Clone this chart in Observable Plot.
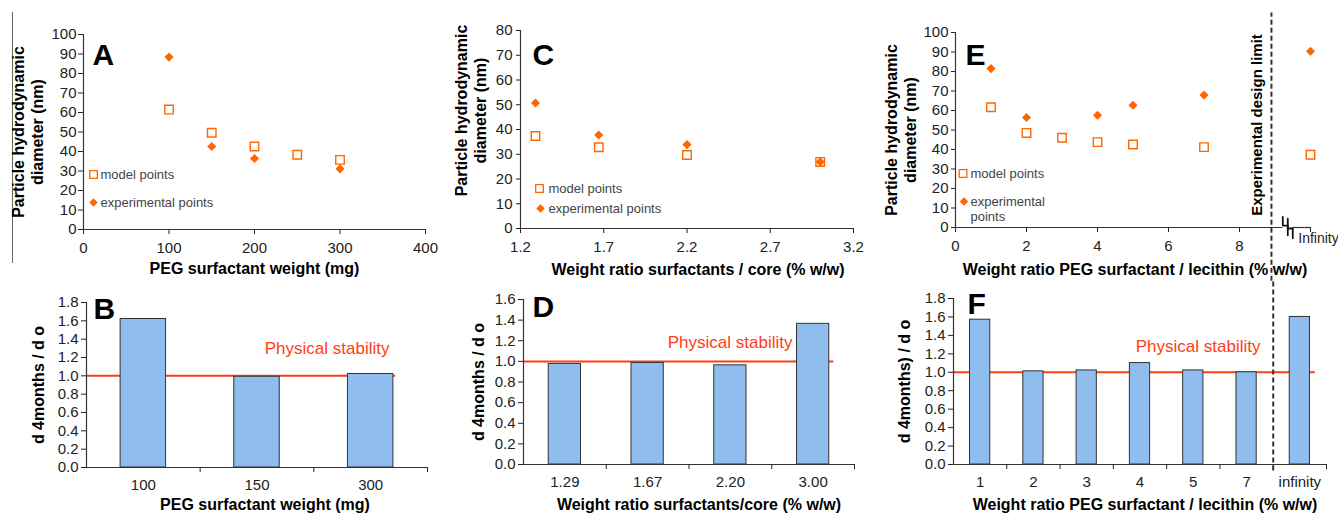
<!DOCTYPE html>
<html><head><meta charset="utf-8">
<script src="https://cdn.jsdelivr.net/npm/d3@7"></script>
<script src="https://cdn.jsdelivr.net/npm/@observablehq/plot@0.6"></script>
<style>
body{margin:0;background:#fff;}
#fig{position:relative;width:1338px;height:515px;overflow:hidden;font-family:"Liberation Sans",Arial,sans-serif;background:#fff;}
#fig svg{position:absolute;}
.edge{position:absolute;left:12px;top:12px;height:251px;border-left:1.5px solid #666;}
</style></head><body><div id="fig"><div class="edge"></div></div>
<script>
// ---------- data ----------
// Panel A
const pegWeightModel = [100, 150, 200, 250, 300];
const diameterModelA = [61.5, 49.6, 42.6, 38.3, 35.7];
const pegWeightExp = [100, 150, 200, 300];
const diameterExpA = [88.4, 42.6, 36.4, 31.1];
const xTicksA = [0, 100, 200, 300, 400];
const yTicksA = [0, 10, 20, 30, 40, 50, 60, 70, 80, 90, 100];
// Panel C
const ratioCoreModel = [1.29, 1.67, 2.2, 3.0];
const diameterModelC = [37.4, 32.8, 29.7, 26.9];
const ratioCoreExp = [1.29, 1.67, 2.2, 3.0];
const diameterExpC = [50.7, 37.8, 33.9, 26.9];
const xTicksC = [1.2, 1.7, 2.2, 2.7, 3.2];
const yTicksC = [0, 10, 20, 30, 40, 50, 60, 70, 80];
// Panel E
const ratioLecithinModel = [1, 2, 3, 4, 5, 7, Infinity];
const diameterModelE = [61.7, 48.5, 46.0, 43.8, 42.6, 41.2, 37.3];
const ratioLecithinExp = [1, 2, 4, 5, 7, Infinity];
const diameterExpE = [81.5, 56.4, 57.6, 62.7, 67.9, 90.4];
const xTicksE = [0, 2, 4, 6, 8];
const yTicksE = [0, 10, 20, 30, 40, 50, 60, 70, 80, 90, 100];
const infinityPosE = 10;
const designLimitE = 8.9;
// Panel B
const stabilityCatsB = ["100", "150", "300"];
const stabilityB = [1.62, 0.99, 1.02];
// Panel D
const stabilityCatsD = ["1.29", "1.67", "2.20", "3.00"];
const stabilityD = [0.975, 0.985, 0.962, 1.364];
// Panel F
const stabilityCatsF = ["1", "2", "3", "4", "5", "7", "infinity"];
const stabilityF = [1.57, 1.01, 1.02, 1.10, 1.02, 1.00, 1.60];
const stabilityThreshold = 1.0;
const legendLabels = ["model points", "experimental points"];

// ---------- styling ----------
const C = {orange: "#ff6600", red: "#ff3d14", bar: "#8ebdee", axis: "#333", text: "#222"};
const FONT = '"Liberation Sans", Arial, sans-serif';
const fig = document.getElementById("fig");
function place(el, left, top) { el.style.left = left + "px"; el.style.top = top + "px"; fig.appendChild(el); }
const baseStyle = {fontFamily: FONT, fontSize: "15px", color: C.text, background: "none", overflow: "visible"};

function scatterPanel(o) {
  const toX = v => v === Infinity ? o.infPos : v;
  const model = o.mx.map((x, i) => ({x: toX(x), y: o.my[i]}));
  const exp = o.ex.map((x, i) => ({x: toX(x), y: o.ey[i]}));
  const marks = [
    Plot.axisY({ticks: o.yTicks, tickSize: o.ytS, tickPadding: o.ytP, label: null}),
    Plot.axisX({ticks: o.xTicks, tickSize: 5, tickPadding: o.xtP, label: null, tickFormat: o.xFmt}),
    Plot.ruleY(o.xSegs, {y: () => 0, x1: d => d[0], x2: d => d[1], stroke: C.axis, strokeWidth: 1.2}),
    Plot.ruleX([o.xDomain[0]], {stroke: C.axis, strokeWidth: 1.2}),
    Plot.dot(model, {x: "x", y: "y", symbol: "square", r: 4.8, stroke: C.orange, strokeWidth: 1.4, fill: "white"}),
    Plot.dot(exp, {x: "x", y: "y", symbol: "diamond2", r: 4.1, fill: C.orange}),
    // legend
    Plot.dot([0], {frameAnchor: "top-left", dx: o.lg.sx, dy: o.lg.sy, symbol: "square", r: 4.3, stroke: C.orange, strokeWidth: 1.3, fill: "white"}),
    Plot.dot([0], {frameAnchor: "top-left", dx: o.lg.dx, dy: o.lg.dy, symbol: "diamond2", r: 3.8, fill: C.orange}),
    Plot.text([legendLabels[0]], {text: d => d, frameAnchor: "top-left", dx: o.lg.tx, dy: o.lg.sy, textAnchor: "start", lineAnchor: "middle", fontSize: 13, fill: "#444"}),
    Plot.text([o.expLabel], {text: d => d, frameAnchor: "top-left", dx: o.lg.tx, dy: o.lg.dy - 7, textAnchor: "start", lineAnchor: "top", fontSize: 13, fill: "#444", lineHeight: 1.2}),
    // panel letter
    Plot.text([o.letter], {text: d => d, frameAnchor: "top-left", dx: o.L.dx, dy: o.L.dy, textAnchor: "start", lineAnchor: "top", fontSize: 30, fontWeight: "bold", fill: "black"}),
    // axis titles
    Plot.text([o.xTitle], {text: d => d, frameAnchor: "bottom", dx: o.xT.dx, dy: o.xT.dy, lineAnchor: "middle", fontSize: 16, fontWeight: "bold", fill: "black"}),
    Plot.text([o.yTitle], {text: d => d, frameAnchor: "left", dx: o.yT.dx, dy: o.yT.dy, rotate: -90, textAnchor: "middle", lineAnchor: "middle", lineHeight: 1.18, fontSize: 16, fontWeight: "bold", fill: "black"})
  ];
  if (o.extra) marks.push(...o.extra);
  return Plot.plot({
    width: o.w, height: o.h, marginLeft: o.m[0], marginRight: o.m[1], marginTop: o.m[2], marginBottom: o.m[3],
    style: baseStyle,
    x: {domain: o.xDomain, label: null},
    y: {domain: o.yDomain, label: null},
    marks
  });
}

function barPanel(o) {
  const n = o.cats.length;
  const data = o.cats.map((c, i) => ({i, c, v: o.values[i]}));
  const marks = [
    Plot.ruleY([stabilityThreshold], {x1: () => 0, x2: () => o.lineEnd, stroke: C.red, strokeWidth: 2}),
    Plot.rectY(data, {x1: d => d.i + o.pad, x2: d => d.i + 1 - o.pad, y: "v", fill: C.bar, stroke: "#333", strokeWidth: 1}),
    Plot.ruleY([0], {stroke: C.axis, strokeWidth: 1.2}),
    Plot.ruleX([0], {stroke: C.axis, strokeWidth: 1.2}),
    Plot.axisY({ticks: o.yTicks, tickFormat: d3.format(".1f"), tickSize: 5, tickPadding: 3, label: null}),
    Plot.axisX({ticks: d3.range(n).map(i => i + 0.5), tickFormat: t => o.cats[Math.floor(t)], tickSize: 0, tickPadding: 12, label: null}),
    Plot.axisX({ticks: d3.range(1, n + 1), tickFormat: () => "", tickSize: 5, label: null}),
    Plot.text(["Physical stability"], {text: d => d, frameAnchor: "top-right", dx: o.ps.dx, dy: o.ps.dy, textAnchor: "end", lineAnchor: "middle", fontSize: 17, fill: C.red}),
    Plot.text([o.letter], {text: d => d, frameAnchor: "top-left", dx: o.L.dx, dy: o.L.dy, textAnchor: "start", lineAnchor: "top", fontSize: 30, fontWeight: "bold", fill: "black"}),
    Plot.text([o.xTitle], {text: d => d, frameAnchor: "bottom", dx: o.xT.dx, dy: o.xT.dy, lineAnchor: "middle", fontSize: 16, fontWeight: "bold", fill: "black"}),
    Plot.text([o.yTitle], {text: d => d, frameAnchor: "left", dx: o.yT.dx, rotate: -90, textAnchor: "middle", lineAnchor: "middle", fontSize: 16, fontWeight: "bold", fill: "black"})
  ];
  if (o.extra) marks.push(...o.extra);
  return Plot.plot({
    width: o.w, height: o.h, marginLeft: o.m[0], marginRight: o.m[1], marginTop: o.m[2], marginBottom: o.m[3],
    style: baseStyle,
    x: {domain: [0, n], label: null},
    y: {domain: [0, o.yMax], label: null},
    marks
  });
}

const yTitleDiam = "Particle hydrodynamic\ndiameter (nm)";

// ----- A -----
place(scatterPanel({
  w: 440, h: 280, m: [83, 15, 34, 51],
  xDomain: [0, 400], yDomain: [0, 100], xTicks: xTicksA, yTicks: yTicksA, ytS: 5, ytP: 2, xtP: 8,
  xSegs: [[0, 400]],
  mx: pegWeightModel, my: diameterModelA, ex: pegWeightExp, ey: diameterExpA,
  lg: {sx: 10, sy: 140, dx: 10, dy: 168, tx: 17}, expLabel: legendLabels[1],
  letter: "A", L: {dx: 9, dy: 9},
  xTitle: "PEG surfactant weight (mg)", xT: {dx: 0, dy: 39},
  yTitle: yTitleDiam, yT: {dx: -56, dy: 0}
}), 0, 0);

// ----- C -----
place(scatterPanel({
  w: 440, h: 280, m: [80, 27, 30, 52],
  xDomain: [1.2, 3.2], yDomain: [0, 80], xTicks: xTicksC, yTicks: yTicksC, ytS: 4, ytP: 4, xtP: 8,
  xSegs: [[1.2, 3.2]], xFmt: d3.format(".1f"),
  mx: ratioCoreModel, my: diameterModelC, ex: ratioCoreExp, ey: diameterExpC,
  lg: {sx: 19, sy: 158, dx: 20, dy: 178, tx: 28}, expLabel: legendLabels[1],
  letter: "C", L: {dx: 12, dy: 13},
  xTitle: "Weight ratio surfactants / core (% w/w)", xT: {dx: 11, dy: 41},
  yTitle: yTitleDiam, yT: {dx: -50, dy: -19}
}), 440, 0);

// ----- E -----
const breakGlyph = [
  {g: 1, x: 9.22, y: 5.5}, {g: 1, x: 9.22, y: 1}, {g: 1, x: 9.36, y: 1}, {g: 1, x: 9.36, y: -4},
  {g: 2, x: 9.36, y: 4.5}, {g: 2, x: 9.36, y: -0.5}, {g: 2, x: 9.5, y: -0.5}, {g: 2, x: 9.5, y: -5.5}
];
place(scatterPanel({
  w: 468, h: 280, m: [85, 28, 32, 53],
  xDomain: [0, 10], yDomain: [0, 100], xTicks: xTicksE, yTicks: yTicksE, ytS: 4, ytP: 3, xtP: 8,
  xSegs: [[0, 9.22], [9.5, 10]], infPos: infinityPosE,
  mx: ratioLecithinModel, my: diameterModelE, ex: ratioLecithinExp, ey: diameterExpE,
  lg: {sx: 7.5, sy: 141, dx: 8.5, dy: 169, tx: 15}, expLabel: "experimental\npoints",
  letter: "E", L: {dx: 10, dy: 11},
  xTitle: "Weight ratio PEG surfactant / lecithin (% w/w)", xT: {dx: 2, dy: 42},
  yTitle: yTitleDiam, yT: {dx: -55, dy: 0},
  extra: [
    Plot.axisX({ticks: [infinityPosE], tickFormat: () => "", tickSize: 5, label: null}),
    Plot.text([infinityPosE], {x: d => d, text: () => "Infinity", frameAnchor: "bottom", dx: 8, dy: 15, fontSize: 14, fill: C.text}),
    Plot.line(breakGlyph, {x: "x", y: "y", z: "g", stroke: "#111", strokeWidth: 1.8}),
    Plot.ruleX([designLimitE], {y1: () => -27.5, y2: () => 110, stroke: "#333", strokeWidth: 2, strokeDasharray: "5,3"}),
    Plot.text(["Experimental design limit"], {x: () => designLimitE, text: d => d, frameAnchor: "middle", dx: -14, dy: -5, rotate: -90, fontSize: 15, fontWeight: "bold", fill: "black"})
  ]
}), 870, 0);

// ----- B -----
place(barPanel({
  w: 440, h: 235, m: [86, 13, 22, 48],
  cats: stabilityCatsB, values: stabilityB, yMax: 1.8, yTicks: d3.range(0, 10).map(i => i / 5),
  pad: 0.3, lineEnd: 2.72,
  ps: {dx: -38, dy: 46}, letter: "B", L: {dx: 7, dy: -5},
  xTitle: "PEG surfactant weight (mg)", xT: {dx: 8, dy: 37},
  yTitle: "d 4months / d o", yT: {dx: -48}
}), 0, 280);

// ----- D -----
place(barPanel({
  w: 440, h: 235, m: [83, 26, 19, 51],
  cats: stabilityCatsD, values: stabilityD, yMax: 1.6, yTicks: d3.range(0, 9).map(i => i / 5),
  pad: 0.305, lineEnd: 3.75,
  ps: {dx: -62, dy: 43}, letter: "D", L: {dx: 9, dy: -4},
  xTitle: "Weight ratio surfactants/core (% w/w)", xT: {dx: 10, dy: 40},
  yTitle: "d 4months / d o", yT: {dx: -45}
}), 440, 280);

// ----- F -----
place(barPanel({
  w: 468, h: 235, m: [83, 12, 18, 51],
  cats: stabilityCatsF, values: stabilityF, yMax: 1.8, yTicks: d3.range(0, 10).map(i => i / 5),
  pad: 0.31, lineEnd: 6.79,
  ps: {dx: -66, dy: 48}, letter: "F", L: {dx: 14, dy: -6},
  xTitle: "Weight ratio PEG surfactant / lecithin (% w/w)", xT: {dx: 5, dy: 40},
  yTitle: "d 4months) / d o", yT: {dx: -49},
  extra: [
    Plot.ruleX([6], {y1: () => -0.07, y2: () => 2.0, stroke: "#333", strokeWidth: 2, strokeDasharray: "5,3"})
  ]
}), 870, 280);
</script>
</body></html>
